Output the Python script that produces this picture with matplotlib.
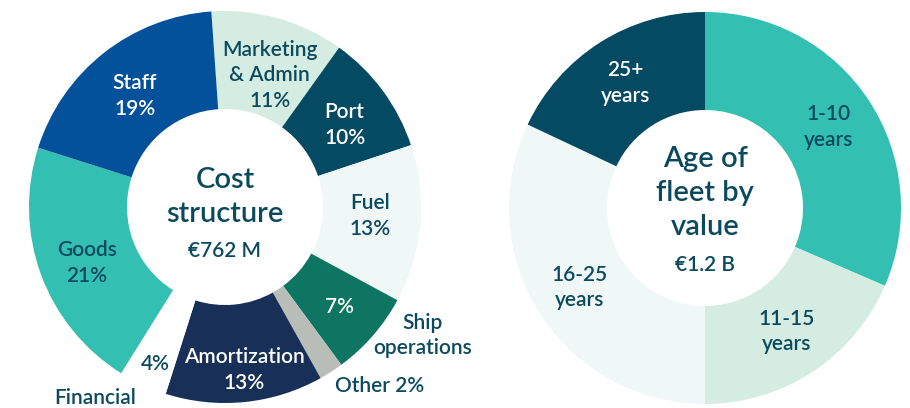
import numpy as np
import matplotlib.pyplot as plt

plt.rcParams['font.family'] = ['Lato', 'DejaVu Sans']

# cost structure, clockwise from the top
cost_names = ['Marketing\n& Admin', 'Port', 'Fuel', 'Ship\noperations', 'Other',
              'Amortization', 'Financial', 'Goods', 'Staff']
cost_pct = [11, 10, 13, 7, 2, 13, 4, 21, 19]
cost_total = '€762 M'

# age of fleet by value, clockwise from the top
fleet_names = ['1-10\nyears', '11-15\nyears', '16-25\nyears', '25+\nyears']
fleet_share = [31.5, 18.5, 32, 18]
fleet_total = '€1.2 B'

DARK = '#0b4a5e'
cost_colors = ['#d5ece2', '#034a62', '#f0f7f7', '#0d7561', '#b9bdb8',
               '#182f57', '#ffffff', '#33bfb1', '#03519b']
cost_text = [DARK, 'white', DARK, 'white', DARK, 'white', DARK, DARK, 'white']
fleet_colors = ['#33bfb1', '#d5ece2', '#f0f7f7', '#034a62']
fleet_text = [DARK, DARK, DARK, 'white']

fig = plt.figure(figsize=(9.1, 4.08), dpi=100)
ax = fig.add_axes([0, 0, 1, 1])

R = 196
left_c = (225, 201)
right_c = (705, 200)
W = 600  # font weight
LS = 1.35

def polar(c, r, ang):
    a = np.deg2rad(ang)
    return c[0] + r * np.cos(a), c[1] + r * np.sin(a)

wl, _ = ax.pie(cost_pct, colors=cost_colors, startangle=94, counterclock=False,
               radius=R, center=left_c,
               wedgeprops=dict(width=R / 2, linewidth=0))
wr, _ = ax.pie(fleet_share, colors=fleet_colors, startangle=90, counterclock=False,
               radius=R, center=right_c,
               wedgeprops=dict(width=R / 2, linewidth=0))

fs = 15
# cost labels: (wedge index, text, radius, angle nudge)
cost_lab = [
    (0, cost_names[0] + '\n11%', 139, -3),
    (1, 'Port\n10%', 145, -2),
    (2, 'Fuel\n13%', 145, 1.5),
    (3, '7%', 152, 0),
    (3, cost_names[3], 236, 8),
    (4, 'Other 2%', 236, 8),
    (5, 'Amortization\n13%', 164, 1),
    (6, '4%', 172, 1),
    (6, 'Financial', 231, -9.5),
    (7, 'Goods\n21%', 149, 2),
    (8, 'Staff\n19%', 143, 1),
]
for i, txt, r, d in cost_lab:
    w = wl[i]
    mid = (w.theta1 + w.theta2) / 2
    x, y = polar(left_c, r, mid + d)
    col = cost_text[i] if r < R else DARK
    ax.text(x, y, txt, ha='center', va='center', fontsize=fs, color=col,
            fontweight=W, linespacing=LS)

for i, txt in enumerate(fleet_names):
    w = wr[i]
    mid = (w.theta1 + w.theta2) / 2
    x, y = polar(right_c, 148, mid)
    ax.text(x, y, txt, ha='center', va='center', fontsize=fs, color=fleet_text[i],
            fontweight=W, linespacing=LS)

ax.text(left_c[0], left_c[1] + 10, 'Cost\nstructure', ha='center', va='center',
        fontsize=21, color=DARK, fontweight=W, linespacing=1.4)
ax.text(left_c[0], left_c[1] - 44, cost_total, ha='center', va='center',
        fontsize=fs, color=DARK, fontweight=W)
ax.text(right_c[0], right_c[1] + 15, 'Age of\nfleet by\nvalue', ha='center', va='center',
        fontsize=21, color=DARK, fontweight=W, linespacing=1.4)
ax.text(right_c[0], right_c[1] - 57, fleet_total, ha='center', va='center',
        fontsize=fs, color=DARK, fontweight=W)

ax.set_xlim(0, 910)
ax.set_ylim(0, 408)
ax.set_aspect('auto')
ax.axis('off')

fig.savefig('out.png', dpi=100)
